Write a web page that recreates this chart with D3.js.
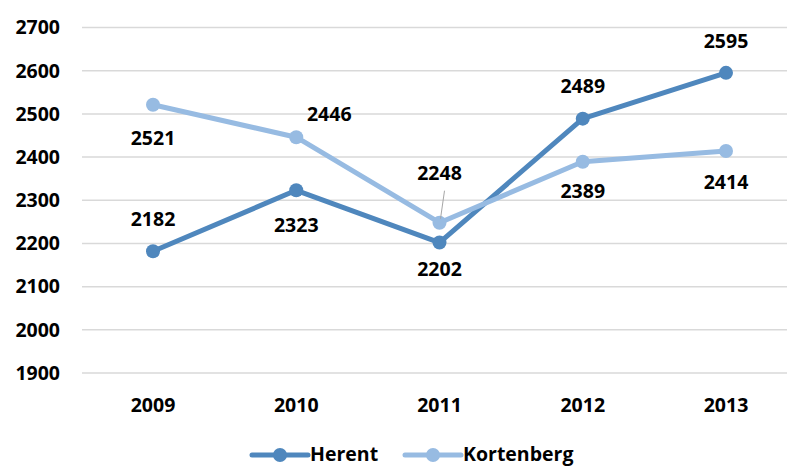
<!DOCTYPE html>
<html>
<head>
<meta charset="utf-8">
<script src="https://cdn.jsdelivr.net/npm/d3@7"></script>
<style>
  html, body { margin: 0; padding: 0; background: #fff; }
  svg { display: block; font-family: 'Open Sans', 'Liberation Sans', sans-serif; }
</style>
</head>
<body>
<div id="chart"></div>
<script>
const years = ['2009', '2010', '2011', '2012', '2013'];
const herent = [2182, 2323, 2202, 2489, 2595];
const kortenberg = [2521, 2446, 2248, 2389, 2414];
const yTicks = [1900, 2000, 2100, 2200, 2300, 2400, 2500, 2600, 2700];
const seriesNames = ['Herent', 'Kortenberg'];

// label placement per point: [dx, dy] from the marker
const herentLabelPos = [[0, -32], [0, 35], [0, 27], [0, -32], [0, -32]];
const kortLabelPos = [[0, 33], [33, -23], [0, -50], [0, 29], [0, 31]];

const W = 787, H = 466;
const colors = ['#4f87bd', '#97bbe2'];

const svg = d3.select('#chart').append('svg')
  .attr('width', W).attr('height', H);

const x = d3.scalePoint().domain(years).range([153, 726]);
const y = d3.scaleLinear().domain([1900, 2700]).range([373, 27.5]);

// Grid
svg.append('g').selectAll('line')
  .data(yTicks)
  .join('line')
  .attr('x1', 82).attr('x2', 800)
  .attr('y1', d => y(d)).attr('y2', d => y(d))
  .attr('stroke', '#d9d9d9')
  .attr('stroke-width', 1.5);

// Y axis labels
svg.append('g').selectAll('text')
  .data(yTicks)
  .join('text')
  .attr('x', 60).attr('y', d => y(d))
  .attr('dy', '0.35em')
  .attr('text-anchor', 'end')
  .style('font-size', '19.5px').style('font-weight', 700)
  .attr('fill', '#000')
  .text(d => d);

// X axis labels
svg.append('g').selectAll('text')
  .data(years)
  .join('text')
  .attr('x', d => x(d)).attr('y', 405)
  .attr('dy', '0.35em')
  .attr('text-anchor', 'middle')
  .style('font-size', '19.5px').style('font-weight', 700)
  .attr('fill', '#000')
  .text(d => d);

const line = d3.line().x((d, i) => x(years[i])).y(d => y(d));

function drawSeries(vals, color) {
  const g = svg.append('g');
  g.append('path')
    .attr('d', line(vals))
    .attr('fill', 'none')
    .attr('stroke', color)
    .attr('stroke-width', 5)
    .attr('stroke-linejoin', 'round');
  g.selectAll('circle')
    .data(vals)
    .join('circle')
    .attr('cx', (d, i) => x(years[i])).attr('cy', d => y(d))
    .attr('r', 7)
    .attr('fill', color);
  return g;
}

drawSeries(herent, colors[0]);
drawSeries(kortenberg, colors[1]);

// leader line for 2011 Kortenberg label
svg.append('line')
  .attr('x1', x('2011') + 5).attr('y1', y(kortenberg[2]) - 32)
  .attr('x2', x('2011') + 1).attr('y2', y(kortenberg[2]) - 4)
  .attr('stroke', '#a6a6a6').attr('stroke-width', 1);

function drawLabels(vals, pos) {
  svg.append('g').selectAll('text')
    .data(vals)
    .join('text')
    .attr('x', (d, i) => x(years[i]) + pos[i][0])
    .attr('y', (d, i) => y(d) + pos[i][1])
    .attr('dy', '0.35em')
    .attr('text-anchor', 'middle')
    .style('font-size', '19.5px').style('font-weight', 700)
    .attr('fill', '#000')
    .text(d => d);
}
drawLabels(herent, herentLabelPos);
drawLabels(kortenberg, kortLabelPos);

// Legend
const legX = [252, 405];
const legY = 455;
const leg = svg.append('g').selectAll('g')
  .data(seriesNames)
  .join('g')
  .attr('transform', (d, i) => `translate(${legX[i]},${legY})`);
leg.append('line')
  .attr('x1', 0).attr('x2', 56)
  .attr('stroke', (d, i) => colors[i]).attr('stroke-width', 5)
  .attr('stroke-linecap', 'round');
leg.append('circle')
  .attr('cx', 28).attr('r', 7)
  .attr('fill', (d, i) => colors[i]);
leg.append('text')
  .attr('x', 58).attr('y', 6)
  .style('font-size', '19.5px').style('font-weight', 700)
  .attr('fill', '#000')
  .text(d => d);
</script>
</body>
</html>
